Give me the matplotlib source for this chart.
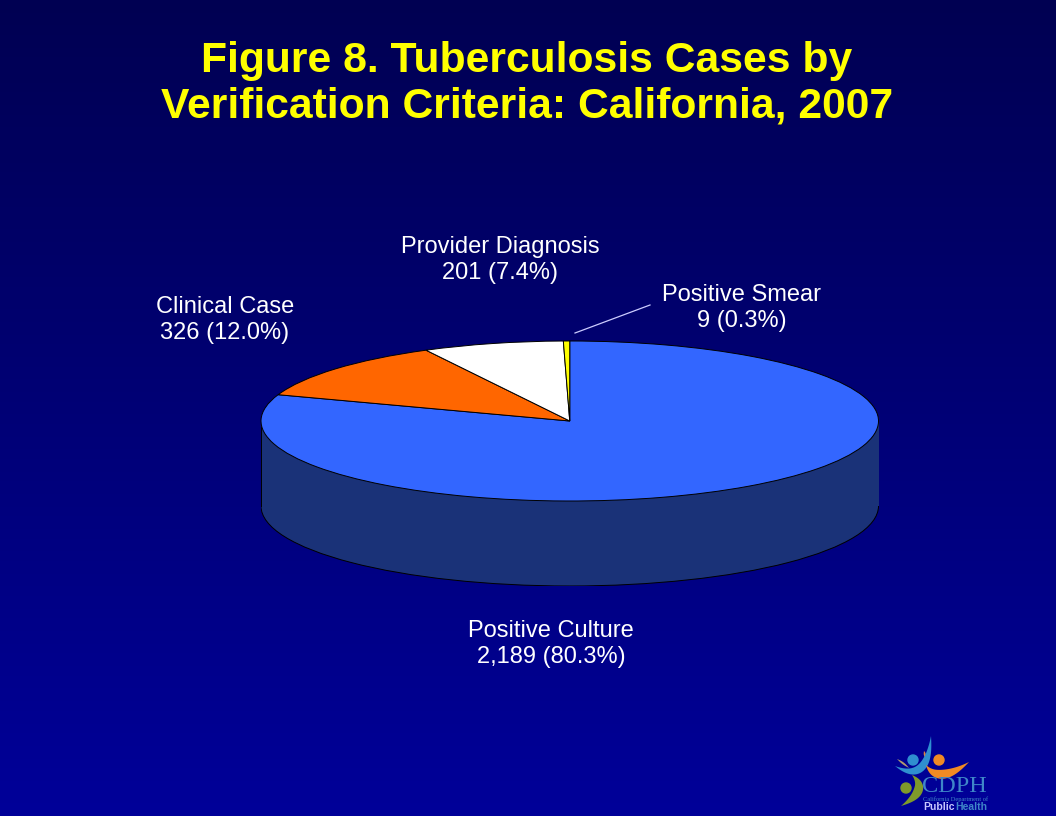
import matplotlib
matplotlib.use("Agg")
import matplotlib.pyplot as plt
from matplotlib.patches import Circle, Polygon, Rectangle
import numpy as np

plt.rcParams['font.family'] = ['Liberation Sans', 'DejaVu Sans']

# data, clockwise from 12 o'clock
categories = ["Positive Culture", "Clinical Case", "Provider Diagnosis", "Positive Smear"]
cases = [2189, 326, 201, 9]
case_labels = ["2,189 (80.3%)", "326 (12.0%)", "201 (7.4%)", "9 (0.3%)"]
top_colors = ["#3366ff", "#ff6600", "#ffffff", "#ffff00"]
side_color = "#1a3278"

title_lines = ["Figure 8. Tuberculosis Cases by", "Verification Criteria: California, 2007"]

W, H = 1056, 816
fig = plt.figure(figsize=(W / 100, H / 100), dpi=100)

# background + text layer in pixel coords
bg = fig.add_axes([0, 0, 1, 1])
bg.set_xlim(0, W)
bg.set_ylim(H, 0)
bg.axis("off")
grad = np.zeros((256, 1, 3))
grad[:, 0, 2] = np.linspace(82, 153, 256) / 255
bg.imshow(grad, extent=[0, W, H, 0], aspect="auto", zorder=0)

# pie: the unit circle squashes to an ellipse 618 x 160 px, wall 85 px tall
depth = 85 / 80
ax = fig.add_axes([261 / W, (H - 586) / H, 617.5 / W, 245 / H])
wedges, _ = ax.pie(cases, colors=top_colors, startangle=90, counterclock=False,
                   wedgeprops=dict(edgecolor="black", linewidth=0.7))
for w in wedges:
    w.set_zorder(7)
ax.add_patch(Circle((0, -depth), 1, facecolor=side_color, edgecolor="black", linewidth=0.7, zorder=4))
ax.add_patch(Rectangle((-1, -depth), 2, depth, facecolor=side_color, edgecolor="none", zorder=5))
ax.plot([-1, -1], [-depth, 0], color="black", lw=0.7, zorder=6)
ax.plot([1, 1], [-depth, 0], color="black", lw=0.7, zorder=6)
ax.set_aspect("auto")
ax.set_xlim(-1, 1)
ax.set_ylim(-1 - depth, 1)
ax.axis("off")
ax.patch.set_alpha(0)

# title
bg.text(527, 61, title_lines[0], color="#ffff00", fontsize=30.7, fontweight="bold", ha="center", va="center")
bg.text(527, 106, title_lines[1], color="#ffff00", fontsize=30.7, fontweight="bold", ha="center", va="center")

# slice labels
label_pos = [(551, 644), (225, 320), (500, 260), (742, 308)]
for name, val, (x, y) in zip(categories, case_labels, label_pos):
    bg.text(x, y, name + "\n" + val, color="white", fontsize=17, ha="center", va="center", linespacing=1.22)

# leader line for the small slice
bg.plot([575, 650], [333, 305], color="#ccccff", lw=0.9)


def swoosh(p0, p1, p2, width, color):
    # tapered curved stroke for the logo figures
    t = np.linspace(0, 1, 40)[:, None]
    p0, p1, p2 = np.array(p0), np.array(p1), np.array(p2)
    mid = (1 - t) ** 2 * p0 + 2 * t * (1 - t) * p1 + t ** 2 * p2
    d = np.gradient(mid, axis=0)
    n = np.column_stack([-d[:, 1], d[:, 0]]) / np.linalg.norm(d, axis=1)[:, None]
    half = width / 2 * np.sin(np.pi * t)
    pts = np.vstack([mid + n * half, (mid - n * half)[::-1]])
    bg.add_patch(Polygon(pts, color=color, lw=0, zorder=3))


# CDPH logo
swoosh((897, 759), (903, 763), (909, 768), 2, "#b09a70")
swoosh((924, 751), (925, 754), (925, 758), 2, "#e08040")
bg.add_patch(Circle((913, 760), 5, color="#2f8fd0", zorder=3))
bg.add_patch(Circle((939, 760), 5, color="#f08a24", zorder=3))
bg.add_patch(Circle((906, 788), 5, color="#7f9a2a", zorder=3))
swoosh((895, 766), (928, 785), (931, 736), 8, "#2f8fd0")
swoosh((926, 765), (938, 785), (969, 762), 9, "#f08a24")
swoosh((912, 775), (930, 790), (901, 806), 9, "#7f9a2a")
bg.text(922, 786, "CDPH", color="#3f86c8", fontsize=17.5, family="Liberation Serif", va="center", ha="left")
bg.text(923, 799, "California Department of", color="#3f86c8", fontsize=4.6, family="Liberation Serif", va="center", ha="left")
bg.text(923, 807, "Public", color="#c8c8ff", fontsize=7.5, fontweight="bold", va="center", ha="left")
bg.text(955, 807, "Health", color="#3f86c8", fontsize=7.5, fontweight="bold", va="center", ha="left")

fig.savefig("out.png", dpi=100)
